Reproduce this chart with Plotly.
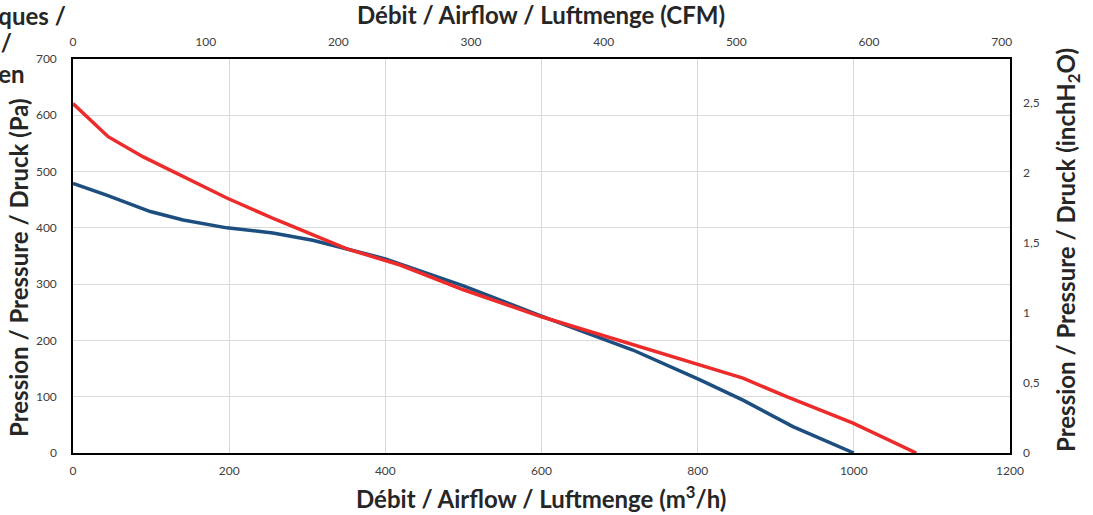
import plotly.graph_objects as go

# Data (m3/h, Pa)
blue_q = [0, 43, 99, 141, 197, 256, 307, 350, 400, 500, 600, 717, 803, 858, 922, 1000]
blue_p = [479, 458, 429, 414, 400, 391, 378, 363, 345, 297, 243, 183, 130, 94, 47, 0]
red_q = [0, 45, 90, 146, 197, 261, 325, 350, 419, 500, 600, 739, 803, 858, 914, 999, 1080]
red_p = [621, 562, 526, 488, 453, 414, 378, 363, 334, 290, 242, 183, 155, 133, 100, 53, 0]

inh2o_ticks = [0, 0.5, 1, 1.5, 2, 2.5]
inh2o_text = ["0", "0,5", "1", "1,5", "2", "2,5"]

M3H_PER_CFM = 1.699
PA_PER_INH2O = 249.089

FONT = "Lato"
TICKCOL = "#404040"
TITLECOL = "#262626"
TSIZE = 24

L, R, T, B = 73, 83, 59, 62
PW, PH = 1093 - L - R, 515 - T - B


def px(x):
    return (x - L) / PW


def py(y):
    return (515 - B - y) / PH


fig = go.Figure()
fig.add_trace(go.Scatter(x=blue_q, y=blue_p, mode="lines",
                         line=dict(color="#1C4E80", width=3.5), showlegend=False))
fig.add_trace(go.Scatter(x=red_q, y=red_p, mode="lines",
                         line=dict(color="#ED2B2A", width=3.5), showlegend=False))
# invisible helper trace to bind secondary axes
fig.add_trace(go.Scatter(x=[0], y=[0], xaxis="x2", yaxis="y2", mode="markers",
                         marker=dict(opacity=0), showlegend=False, hoverinfo="skip"))

fig.update_layout(
    width=1093, height=515,
    margin=dict(l=L, r=R, t=T, b=B),
    plot_bgcolor="white", paper_bgcolor="white",
    font=dict(family=FONT, size=12, color=TICKCOL),
    xaxis=dict(range=[0, 1200], dtick=200, showgrid=True, gridcolor="#d9d9d9", gridwidth=1,
               showline=True, linecolor="black", linewidth=1.5, mirror=True,
               ticks="", zeroline=False, ticklabelstandoff=6),
    yaxis=dict(range=[0, 700], dtick=100, showgrid=True, gridcolor="#d9d9d9", gridwidth=1,
               showline=True, linecolor="black", linewidth=1.5, mirror=True,
               ticks="", zeroline=False, ticklabelstandoff=12),
    xaxis2=dict(overlaying="x", side="top", range=[0, 1200 / M3H_PER_CFM], dtick=100,
                showgrid=False, zeroline=False, ticks="", ticklabelstandoff=10),
    yaxis2=dict(overlaying="y", side="right", range=[0, 700 / PA_PER_INH2O],
                tickvals=inh2o_ticks, ticktext=inh2o_text,
                showgrid=False, zeroline=False, ticks="", ticklabelstandoff=12),
)

tfont = dict(family=FONT, size=TSIZE, color=TITLECOL, weight="bold")
fig.add_annotation(text="Débit / Airflow / Luftmenge (CFM)", xref="paper", yref="paper",
                   x=px(541), y=py(14), xanchor="center", yanchor="middle",
                   showarrow=False, font=tfont)
fig.add_annotation(text="Débit / Airflow / Luftmenge (m<sup>3</sup>/h)", xref="paper", yref="paper",
                   x=px(541), y=py(497), xanchor="center", yanchor="middle",
                   showarrow=False, font=tfont)
fig.add_annotation(text="Pression / Pressure / Druck (Pa)", xref="paper", yref="paper",
                   x=px(18), y=py(268), xanchor="center", yanchor="middle", textangle=-90,
                   showarrow=False, font=tfont)
fig.add_annotation(text="Pression / Pressure / Druck (inchH<sub>2</sub>O)", xref="paper", yref="paper",
                   x=px(1068), y=py(250), xanchor="center", yanchor="middle", textangle=-90,
                   showarrow=False, font=tfont)

# clipped chart title lines at top-left
title_lines = ["Caractéristiques /", "Characteristics /", "Kennlinien"]
right_px = [68, 14, 27]
center_py = [15, 42, 73]
for t, rx, cy in zip(title_lines, right_px, center_py):
    fig.add_annotation(text=t, xref="paper", yref="paper",
                       x=px(rx), y=py(cy),
                       xanchor="right", yanchor="middle", showarrow=False, font=tfont)

fig.write_html("out.html", config={"displayModeBar": False},
               post_script="document.body.style.margin='0';")
